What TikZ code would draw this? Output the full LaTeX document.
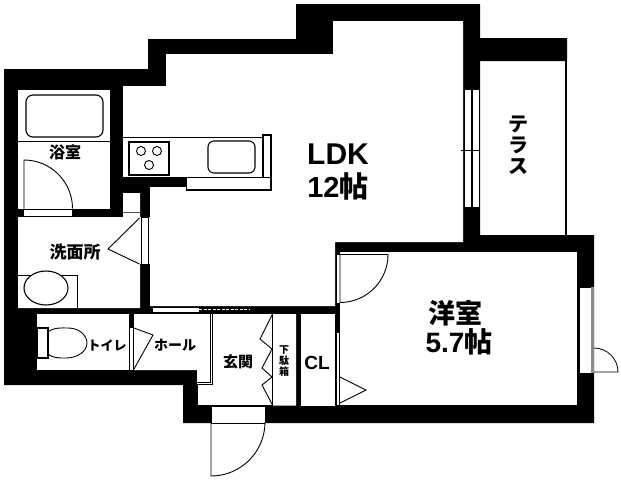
\documentclass[tikz,border=0pt]{standalone}
\usepackage{fontspec}
\setmainfont{Liberation Sans}
\newfontfamily\jp{Noto Sans CJK JP}
\tikzset{
  wall/.style={fill=black,draw=none},
  room/.style={fill=white,draw=none},
  thin line/.style={draw=black,line width=0.9pt},
  fixture/.style={draw=black,fill=white,line width=1.1pt},
  gap/.style={draw=black,fill=white,line width=0.7pt},
  jlabel/.style={font=\jp\bfseries,inner sep=0pt,align=center,text=black},
  alabel/.style={font=\bfseries,inner sep=0pt,align=center,text=black}
}
\begin{document}
\begin{tikzpicture}[x=1pt,y=-1pt]
\useasboundingbox (0,0) rectangle (621,480);
\fill[white] (0,0) rectangle (621,480);
% outer mass of walls
\fill[wall] (148,39)--(296,39)--(296,4)--(480,4)--(480,38)--(567,38)--(567,61)--(480,61)--(480,235)--(594,235)--(594,423)--(183,423)--(183,385)--(4,385)--(4,69)--(148,69)--cycle;
% terrace line
\draw[thin line,line width=1.1pt] (566,61)--(566,235);
% rooms
\fill[room] (333,21)--(463,21)--(463,242)--(335,242)--(335,306)--(150,306)--(150,187)--(186,187)--(186,177)--(123,177)--(123,86)--(166,86)--(166,54)--(333,54)--cycle;
\fill[room] (340,252) rectangle (577,405);
\fill[room] (18,90) rectangle (110,209);
\fill[room] (18,217)--(123,217)--(123,193)--(140,193)--(140,308)--(18,308)--cycle;
\fill[room] (37,314) rectangle (129,370);
\fill[room] (134,314)--(213,314)--(213,385)--(197,385)--(197,370)--(134,370)--cycle;
\fill[room] (213,314)--(296,314)--(296,405.5)--(198,405.5)--(198,385)--(213,385)--cycle;
\fill[room] (301,314) rectangle (335,405.5);
% hall double line
\draw[thin line,line width=0.7pt] (210,314)--(210,382)--(197,382);
\draw[thin line,line width=0.7pt] (212.7,314)--(212.7,384.7)--(197,384.7);
% bath
\draw[fixture,rounded corners=7pt] (26,95) rectangle (103,137);
\draw[thin line] (18,141)--(110,141);
\draw[gap] (23.5,209.5) rectangle (72.5,216);
\draw[thin line] (24,209)--(24,160) arc[start angle=-90,end angle=0,radius=48.5];
% kitchen
\draw[thin line] (123,137.5)--(263,137.5);
\draw[thin line] (123,177)--(263,177);
\draw[fixture] (263,135) rectangle (271,177.5);
\draw[fixture] (186.5,177.5) rectangle (271,190);
\draw[fixture] (129,142) rectangle (169,175);
\draw[thin line] (141,151) circle[radius=4.5] (157,151) circle[radius=4.5] (149,165) circle[radius=4.5];
\draw[fixture,rounded corners=6pt] (208,141) rectangle (255,173);
% closet box and wash door
\draw[draw=black!70,line width=0.8pt] (123,212)--(140,212);
\fill[white] (140,217) rectangle (150,264);
\draw[gap] (141,217.5) rectangle (148,264);
\draw[thin line] (139.5,218)--(108,249)--(139.5,264);
% wash basin
\draw[thin line] (18,275)--(77,275)--(77,308);
\draw[fixture] (46,288) ellipse[x radius=22,y radius=17];
% partitions
\fill[white] (152,307.5) rectangle (199,312);
\draw[thin line,line width=0.7pt] (152,307.5) rectangle (199,312);
\draw[white,line width=1pt,dash pattern=on 3pt off 1.5pt] (199,309)--(249,309);
% toilet
\fill[white] (129,328) rectangle (134,370);
\draw[thin line,line width=0.7pt] (129,328)--(129,370) (133,328)--(133,370);
\draw[thin line] (134,328)--(153,335)--(134,369);
\draw[fixture] (37,328) rectangle (48,358);
\draw[thin line] (48,332) .. controls (54,327) and (62,328) .. (68,328) .. controls (80,328) and (87,336) .. (87,343) .. controls (87,351) and (78,358) .. (66,358) .. controls (58,358) and (53,358) .. (48,354);
% shoe closet folding door
\draw[thin line,line width=1pt] (272.5,314)--(272.5,405.5);
\draw[thin line] (272.5,314)--(260,339)--(272,349)--(262,368)--(272,377)--(262,385)--(272.5,405);
% west wall of bedroom openings
\fill[white] (335.5,255) rectangle (340,303);
\draw[thin line,line width=0.7pt] (336,255)--(336,303);
\draw[thin line] (340,303)--(340,254.5)--(388,254.5) arc[start angle=0,end angle=90,radius=48];
\fill[white] (335.5,333) rectangle (340,405);
\draw[thin line,line width=0.7pt] (336,333)--(336,405) (339.5,333)--(339.5,405);
\draw[thin line] (340,377)--(366,390)--(340,403);
% LDK window
\fill[white] (464,89) rectangle (479,207);
\draw[thin line,line width=0.7pt] (464.3,89) rectangle (479,207);
\draw[thin line,line width=0.7pt] (471,89)--(471,207) (472.5,89)--(472.5,207);
\draw[thin line,line width=0.7pt] (461,150)--(479,150) (472,142)--(472,157);
% bedroom window
\fill[white] (579,287) rectangle (594,373);
\draw[draw=black,line width=0.7pt] (579,287) rectangle (591,373);
\fill[black!45] (591,287) rectangle (594,373);
\draw[thin line,line width=0.8pt] (594,348) arc[start angle=-90,end angle=0,radius=24] -- (594,372);
% entry door
\fill[white] (212,406) rectangle (265,423);
\draw[thin line,line width=0.8pt] (212,406)--(265,406);
\draw[thin line,line width=0.8pt] (265,423)--(211,423);
\draw[thin line] (211,423)--(211,476) arc[start angle=90,end angle=0,radius=54];
\draw[thin line,line width=0.8pt] (198,405.5)--(272,405.5);
% labels
\node[alabel,font=\bfseries\fontsize{30}{30}\selectfont] (ldk) at (338,154) {LDK};
\node[jlabel,font=\bfseries\fontsize{29}{29}\selectfont] (ldk12) at (338,186) {12{\jp\bfseries 帖}};
\node[jlabel,font=\jp\bfseries\fontsize{20}{21}\selectfont] (terrace) at (518,145) {テ\\ラ\\ス};
\node[jlabel,font=\jp\bfseries\fontsize{27}{27}\selectfont] (yoshitsu) at (455,313) {洋室};
\node[alabel,font=\bfseries\fontsize{28}{28}\selectfont] (yoshitsu2) at (459,342) {5.7{\jp\bfseries 帖}};
\node[jlabel,font=\jp\bfseries\fontsize{16}{16}\selectfont] (yoku) at (65,152) {浴室};
\node[jlabel,font=\jp\bfseries\fontsize{17}{17}\selectfont] (sen) at (75,252) {洗面所};
\node[jlabel,font=\jp\bfseries\fontsize{13}{13}\selectfont] (toi) at (107,345) {トイレ};
\node[jlabel,font=\jp\bfseries\fontsize{14}{14}\selectfont] (hall) at (175,345) {ホール};
\node[jlabel,font=\jp\bfseries\fontsize{15}{15}\selectfont] (gen) at (238,362) {玄関};
\node[jlabel,font=\jp\bfseries\fontsize{10}{11}\selectfont] (shoe) at (284,361) {下\\駄\\箱};
\node[alabel,font=\bfseries\fontsize{19}{19}\selectfont] (cl) at (317,363) {CL};
\end{tikzpicture}
\end{document}
